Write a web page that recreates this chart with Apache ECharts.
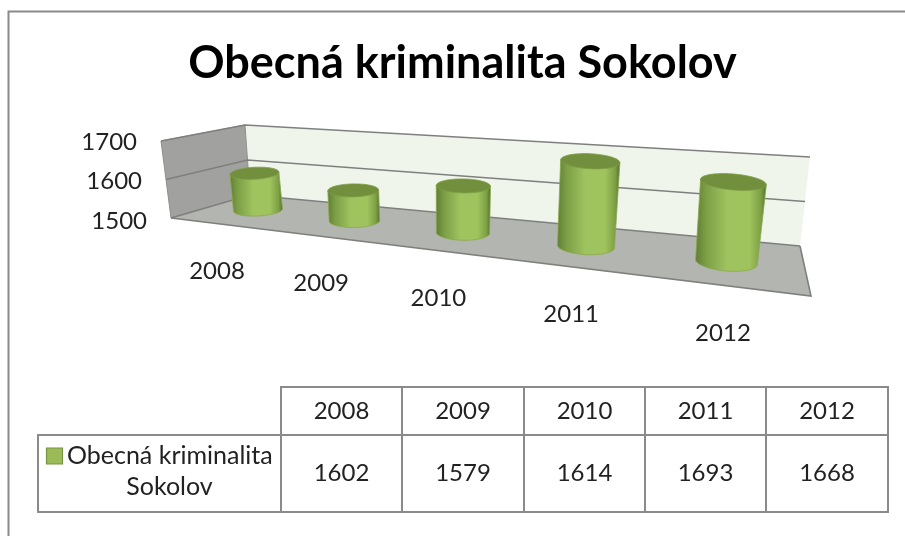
<!DOCTYPE html>
<html><head><meta charset="utf-8">
<style>html,body{margin:0;padding:0;background:#fff}#c{width:905px;height:536px;filter:blur(0.45px)}</style>
<script src="https://cdn.jsdelivr.net/npm/echarts@6/dist/echarts.min.js"></script>
</head><body><div id="c"></div>
<script>
const titleText = 'Obecná kriminalita Sokolov';
const seriesName = 'Obecná kriminalita Sokolov';
const years = ['2008','2009','2010','2011','2012'];
const crime = [1602,1579,1614,1693,1668];
const yTicks = [1500,1600,1700];
const FONT = 'Lato, Carlito, "Noto Sans", sans-serif';
const GRAY = '#8a8a8a';
const NUM = '24px '+FONT, LEG = '25px '+FONT;
const chart = echarts.init(document.getElementById('c'), null, {renderer:'canvas', width:905, height:536});

// perspective "camera": grid pixel -> sheared 3D plane through the cylinder centres
function project(api, i, v){
  const p = api.coord([i, v]);
  const a = api.coord([0, 1500]), b = api.coord([years.length-1, 1700]);
  const u = (p[0]-a[0])/(b[0]-a[0]), t = (p[1]-a[1])/(b[1]-a[1]);
  const w = 1-0.222*u;
  return {u:u, t:t,
    x:(307.2*u+258)/w + t*(-7+15.3*u),
    y:(-6.16*u+210)/w - t*(72+2.07*u)/w,
    bx:(307.2*u+258)/w, by:(-6.16*u+210)/w};
}
function arc(cx,cy,rx,ry,rot,a0,a1,n){
  const pts=[],c=Math.cos(rot),s=Math.sin(rot);
  for(let k=0;k<=n;k++){const a=a0+(a1-a0)*k/n,ex=rx*Math.cos(a),ey=ry*Math.sin(a);
    pts.push([cx+ex*c-ey*s, cy+ex*s+ey*c]);}
  return pts;
}
function renderCylinder(params, api){
  const i = api.value(0), v = api.value(1);
  const p = project(api,i,v), u = p.u;
  const r = 24.5+2*u+5.5*u*u;
  const rot = (-3+8*u)*Math.PI/180;
  const baseP = arc(p.bx,p.by,r-u*u,6+3*u,rot,0,Math.PI,24);
  const topFull = arc(p.x,p.y,r+u*u,6+2*u,rot,0,2*Math.PI,48);
  const topLeft = topFull[24], topRight = topFull[0];
  const body = [topRight].concat(baseP,[topLeft]);
  return {type:'group',children:[
    {type:'polygon',shape:{points:body},style:{
      fill:{type:'linear',x:0,y:0,x2:1,y2:0,colorStops:[
        {offset:0,color:'#5f7d35'},{offset:0.15,color:'#7c9e46'},{offset:0.45,color:'#9fc45f'},
        {offset:0.76,color:'#9fc35d'},{offset:0.92,color:'#7d9f45'},{offset:1,color:'#4f6c2b'}]},
      stroke:'#8aa94c',lineWidth:0.8}},
    {type:'polygon',shape:{points:topFull},style:{fill:'#728f3e',stroke:'#7f9e45',lineWidth:0.8}}
  ]};
}
function renderXLabel(params, api){
  const i = api.value(0);
  const p = project(api,i,1500), d=p.bx-258;
  return {type:'text',style:{x:p.bx-41+d*0.08,y:p.by+61+d*0.021,text:years[i],
    font:NUM,fill:'#222',align:'center',verticalAlign:'middle'}};
}
function renderYLabel(params, api){
  const v = api.value(1), y = api.coord([0,v])[1];
  return {type:'text',style:{x:137+(1700-v)*0.05,y:y,text:String(v),
    font:NUM,fill:'#222',align:'right',verticalAlign:'middle'}};
}
const wallL0=[171,218],wallL1=[161,141],wallB0=[250,195],wallB1=[245,125],wallR0=[800,246],wallR1=[810,157];
function lerp(a,b,t){return [a[0]+(b[0]-a[0])*t,a[1]+(b[1]-a[1])*t];}
function renderGrid(params, api){
  const v = api.value(1);
  const a = api.coord([0,1500])[1], b = api.coord([0,1700])[1], y = api.coord([0,v])[1];
  const t=(y-a)/(b-a);
  return {type:'polyline',shape:{points:[lerp(wallL0,wallL1,t),lerp(wallB0,wallB1,t),lerp(wallR0,wallR1,t)]},
    style:{stroke:'#7f7f7f',lineWidth:1.6,fill:null}};
}
// table graphics, built from the arrays
const colX=[281,402,524,645,766,888], rowY=[387,435,512], leftX=38;
const tableLines=[
  [[colX[0],rowY[0]],[colX[5],rowY[0]]],
  [[leftX,rowY[1]],[colX[5],rowY[1]]],
  [[leftX,rowY[2]],[colX[5],rowY[2]]],
  [[leftX,rowY[1]],[leftX,rowY[2]]]
].concat(colX.map(x=>[[x,rowY[0]],[x,rowY[2]]]));
const graphics=[
  {type:'polygon',z:0,shape:{points:[wallB0,wallB1,wallR1,wallR0]},style:{fill:'#f0f5ec'}},
  {type:'polygon',z:0,shape:{points:[wallL0,wallL1,wallB1,wallB0]},style:{fill:'#a1a29f',stroke:'#8f908d',lineWidth:1}},
  {type:'polygon',z:0,shape:{points:[wallL0,wallB0,wallR0,[811,296]]},style:{fill:'#b3b5b0'}},
  {type:'polyline',z:1,shape:{points:[wallL0,[811,296],wallR0]},style:{stroke:'#7f807d',lineWidth:1.6,fill:null}},
  {type:'polyline',z:1,shape:{points:[[8.5,536],[8.5,11.5],[905,11.5]]},style:{stroke:GRAY,lineWidth:2,fill:null}},
  {type:'text',z:3,style:{x:462.5,y:63,text:titleText,font:'bold 45px '+FONT,fill:'#000',align:'center',verticalAlign:'middle'}},
  {type:'rect',z:3,shape:{x:46.5,y:448,width:16,height:16},style:{fill:'#9bbb59',stroke:'#7a9440',lineWidth:1.2}},
  {type:'text',z:3,style:{x:67,y:456,text:seriesName.split(' ').slice(0,2).join(' '),font:LEG,fill:'#222',align:'left',verticalAlign:'middle'}},
  {type:'text',z:3,style:{x:169.5,y:487,text:seriesName.split(' ')[2],font:LEG,fill:'#222',align:'center',verticalAlign:'middle'}}
];
tableLines.forEach(l=>graphics.push({type:'line',z:2,shape:{x1:l[0][0],y1:l[0][1],x2:l[1][0],y2:l[1][1]},style:{stroke:GRAY,lineWidth:2,lineCap:'round'}}));
years.forEach((yr,i)=>{
  const cx=(colX[i]+colX[i+1])/2;
  graphics.push({type:'text',z:3,style:{x:cx,y:411,text:yr,font:NUM,fill:'#222',align:'center',verticalAlign:'middle'}});
  graphics.push({type:'text',z:3,style:{x:cx,y:473,text:String(crime[i]),font:NUM,fill:'#222',align:'center',verticalAlign:'middle'}});
});
chart.setOption({
  animation:false,
  backgroundColor:'#fff',
  grid:{left:150,right:100,top:142,bottom:315},
  xAxis:{type:'category',data:years,show:false,boundaryGap:false},
  yAxis:{type:'value',min:1500,max:1700,interval:100,show:false},
  graphic:graphics,
  series:[
    {type:'custom',name:'grid',clip:false,renderItem:renderGrid,data:yTicks.map(v=>[0,v]),z:2,silent:true},
    {type:'custom',name:seriesName,clip:false,renderItem:renderCylinder,data:crime.map((v,i)=>[i,v]),z:3,encode:{x:0,y:1}},
    {type:'custom',name:'x labels',clip:false,renderItem:renderXLabel,data:years.map((y,i)=>[i,1500]),z:3,silent:true},
    {type:'custom',name:'y labels',clip:false,renderItem:renderYLabel,data:yTicks.map(v=>[0,v]),z:3,silent:true}
  ]
});
</script></body></html>
